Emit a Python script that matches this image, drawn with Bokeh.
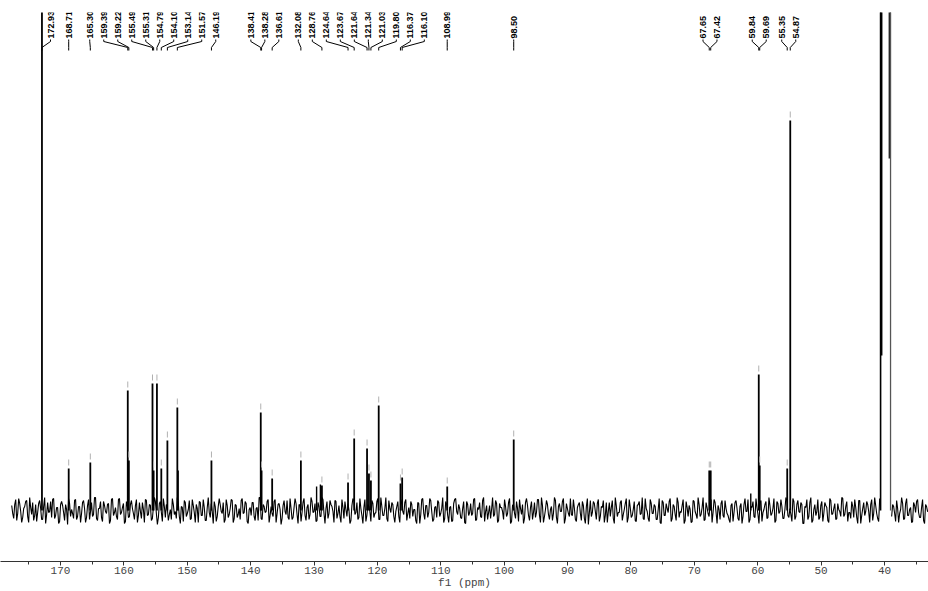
import numpy as np
from bokeh.plotting import figure
from bokeh.models import Range1d, SingleIntervalTicker
from bokeh.core.properties import value
from bokeh.embed import file_html
from bokeh.resources import INLINE

# ---------------- data ----------------
# picked peaks (ppm) and their heights above the baseline (arbitrary units)
peak_ppm = [172.93, 168.71, 165.30, 159.39, 159.22, 155.49, 155.31, 154.79, 154.10,
            153.14, 151.57, 146.19, 138.41, 138.28, 136.61, 132.08, 128.76, 124.64,
            123.67, 121.64, 121.34, 121.03, 119.80, 116.37, 116.10, 108.99, 98.50,
            67.65, 67.42, 59.84, 59.69, 55.35, 54.87]
peak_height = [700, 42, 48, 120, 50, 127, 40, 127, 42,
               70, 103, 50, 98, 40, 32, 50, 25, 28,
               72, 62, 37, 30, 105, 27, 33, 24, 71,
               40, 40, 136, 45, 42, 390]
peak_label = ["172.93", "168.71", "165.30", "159.39", "159.22", "155.49", "155.31",
              "154.79", "154.10", "153.14", "151.57", "146.19", "138.41", "138.28",
              "136.61", "132.08", "128.76", "124.64", "123.67", "121.64", "121.34",
              "121.03", "119.80", "116.37", "116.10", "108.99", "98.50", "67.65",
              "67.42", "59.84", "59.69", "55.35", "54.87"]

# small unlabelled features
small_ppm = [151.44, 129.6, 129.0, 61.1]
small_height = [40, 24, 26, 17]

# solvent multiplet strokes (off scale): ppm, lower end of stroke, upper end
solvent_ppm = [40.62, 40.50, 39.18, 39.05]
solvent_low = [0, 155, 352, 0]
solvent_high = [900, 900, 900, 900]

# baseline noise trace, two interleaved sample sets (even / odd points),
# evenly spaced from 177.7 to 33.05 ppm
noise_even = [
    5, -8, 11, -3, 7, -12, 2, 9, -6, 13, -4, -10, 6, -2, 10, -9, 4, -13, 8, -1,
    -7, 12, -5, 3, -11, 9, -2, 6, -14, 7, 1, -8, 11, -6, 4, -3, 10, -12, 5, -9,
    8, -4, 13, -10, 2, -7, 9, -1, 6, -13, 11, -5, 3, -9, 12, -2, 7, -11, 4, -6,
    10, -3, 5, -12, 8, -8, 1, 11, -5, 6, -10, 3, 9, -14, 7, -2, 12, -7, 2, -4,
    -9, 6, -1, 13, -6, 4, -11, 8, -3, 10, -8, 5, -12, 2, 9, -5, 11, -10, 3, -2,
    7, -13, 4, -6, 12, -1, 8, -9, 5, -4, 11, -12, 6, -7, 2, 10, -3, 9, -11, 1,
    -5, 8, -10, 3, 13, -8, 6, -2, 9, -12, 4, -6, 11, -3, 7, -14, 5, -1, 10, -9,
    2, -7, 12, -4, 6, -11, 8, -5, 3, -9, 13, -2, 7, -10, 4, -6, 11, -13, 9, -3,
    6, -1, 10, -8, 5, -12, 3, 9, -6, 1, -10, 12, -4, 8, -7, 2, -13, 11, -5, 4,
    -11, 7, -3, 9, -9, 13, -5, 2, -8, 10, -2, 6, -12, 4, -6, 11, -1, 8, -10, 3,
    9, -6, 1, -13, 7, -4, 12, -9, 5, -2, 10, -11, 3, -7, 8, -3, 13, -8, 6, -12,
    4, -10, 11, -1, 6, -7, 2, -12, 9, -5, 7, -3, 12, -9, 1, -6, 10, -11, 5, -2,
    -8, 13, -4, 7, -10, 3, -1, 11, -6, 8, -13, 5, -3, 9, -11, 2, 6, -8, 12, -5,
    3, -9, 8, -2, 11, -12, 5, -6, 10, -4, 1, -10, 13, -7, 4, -1, 9, -13, 7, -3,
    12, -5, 2, -11, 6, -3, 9, -8, 4, -14, 10, -2, 7, -9, 11, -6, 3, -12, 8, -1,
    -6, 10, -13, 5, -2, 8, -10, 1, 12, -7, 3, -5, 9, -11, 6, -4, 13, -9, 2, -8,
    11, -3, 6, -9, 1, -12, 10, -5, 7, -2, 12, -8, 4, -10, 8, -1, 5, -13, 9, -6,
    1, -11, 9, -4, 13, -6, 3, -10, 8, -3, 6, -12, 11, -2, 5, -9, 10, -7, 2, -5,
    -12, 7, -2, 10, -8, 4, -13, 6, -1, 11, -9, 3, -6, 12, -4, 8, -11, 1, 9, -7,
    5, -3, 12, -10, 7, -1, 4, -8, 13, -5, 2, -11, 9, -6, 10, -2, 6, -13, 3, -9,
    8, -12, 1, -5, 11, -7, 9, -3, 5, -10, 12, -4, 2, -9, 7, -1, 13, -6, 4, -11,
    -2, 9, -7, 3, -13, 10, -5, 8, -1, 6, -12, 11, -3, 5, -8, 12, -10, 2, -4, 7,
    10, -6, 4, -11, 2, -3, 13, -9, 7, -5, 1, -12, 8, -2, 11, -7, 3, -10, 6, -1,
]
noise_odd = [
    -3, 6, -10, 12, -1, -7, 4, 10, -12, 3, 8, -5, -11, 7, 2, -9, 13, -4, -2, 9,
    11, -8, 3, -13, 6, 5, -10, 1, 12, -6, -3, 10, -9, 4, -12, 8, 2, -7, 11, -1,
    -6, 13, -8, 2, 9, -11, 5, -3, 7, -10, 12, -2, -6, 11, -4, 3, -13, 9, -7, 6,
    2, -9, 11, -5, -1, 8, -12, 10, -4, 5, -8, 13, -3, -7, 9, -11, 4, 6, -10, 1,
    12, -4, -8, 7, -13, 3, 10, -6, 1, -9, 11, -2, 6, -12, 8, -5, 3, -10, 13, -7,
    -1, 9, -11, 4, 6, -3, -12, 11, -7, 2, 10, -8, 5, -4, -9, 12, -2, 7, -13, 3,
    8, -6, 2, -10, 13, -9, 4, -1, 11, -5, -3, 9, -12, 6, 1, -8, 10, -4, -7, 12,
    -9, 3, 7, -13, 5, -2, 12, -10, 6, -4, 9, -1, -11, 8, -6, 13, -3, 2, -8, 10,
    4, -12, 9, -3, -6, 11, -8, 1, 7, -13, 5, 10, -2, -9, 12, -5, 3, -11, 6, -1,
    10, -7, -2, 12, -9, 4, -5, 13, -11, 2, 8, -6, -1, 9, -12, 7, -4, 11, -3, -8,
    6, 1, -10, 8, -13, 11, -3, 5, -7, 12, -1, -9, 4, 10, -6, 2, -12, 9, -5, 3,
    -11, 7, 12, -4, 2, -8, 9, -13, 6, -2, -5, 11, -10, 3, 8, -7, 13, -1, -9, 5,
    1, -6, 10, -12, 7, 3, -9, 4, -3, 12, -11, 6, -8, 2, 11, -4, -13, 8, 5, -10,
    9, -2, -7, 11, -5, 13, -12, 1, 6, -9, 4, -3, 10, -13, 7, -1, 12, -8, 2, -6,
    -4, 11, -9, 3, 8, -10, 5, -13, 12, -2, -6, 9, -1, 7, -11, 4, 10, -5, -12, 8,
    3, -8, 13, -6, -2, 10, -4, 7, -12, 11, -7, 1, -10, 5, 9, -3, -8, 12, -1, -11,
    7, -3, 4, -9, 12, -13, 8, -5, 2, 9, -11, 6, -4, 13, -7, -2, 11, -10, 3, 5,
    -12, 10, -1, -8, 6, -4, 13, -9, 3, -6, 11, -2, 8, -13, 1, 7, -5, 10, -3, -9,
    5, -11, 8, 2, -10, 7, -6, 12, -1, -12, 4, 9, -7, 3, -13, 10, -2, 6, -8, 13,
    -5, 2, -12, 9, -3, 11, -8, 1, 10, -7, -4, 12, -9, 6, -1, 8, -13, 4, 11, -6,
    13, -10, 6, -1, -9, 5, -11, 8, 3, -12, 10, -3, 7, -8, 1, -6, 12, -4, 9, -2,
    -8, 4, 11, -7, 10, -13, 2, -5, 9, -1, 6, -10, 13, -3, -11, 8, -6, 3, -4, 12,
    -9, 6, -3, 10, -12, 1, 7, -8, 12, -5, 3, -11, 5, 9, -2, -7, 11, -13, 4, -1,
]
noise_start, noise_end = 177.7, 33.05

axis_title = "f1 (ppm)"

# ---------------- layout constants ----------------
W, H = 928, 591
X_START, X_END = 179.47, 33.06
Y_MIN, Y_MAX = -51, 498
LABEL_GAP_PX = 14.0
LABEL_LEFT_LIMIT_PX = 50.0
FONT_LAB = "Liberation Sans"

p = figure(width=W, height=H,
           x_range=Range1d(X_START, X_END), y_range=Range1d(Y_MIN, Y_MAX),
           output_backend="svg", toolbar_location=None,
           min_border_left=0, min_border_right=0, min_border_top=12, min_border_bottom=0)
p.yaxis.visible = False
p.grid.visible = False
p.outline_line_color = None
p.background_fill_color = "white"

# ---- baseline noise ----
ny = np.empty(len(noise_even) + len(noise_odd), dtype=float)
ny[0::2] = noise_even
ny[1::2] = noise_odd
nx = np.linspace(noise_start, noise_end, len(ny))
ny[(nx > 39.0) & (nx < 40.65)] = np.nan
p.line(nx, ny, line_color="black", line_width=1.1)

# ---- peaks ----
p.segment(x0=peak_ppm, y0=[0] * len(peak_ppm), x1=peak_ppm, y1=peak_height,
          line_color="black", line_width=1.8)
p.segment(x0=small_ppm, y0=[0] * len(small_ppm), x1=small_ppm, y1=small_height,
          line_color="black", line_width=1.4)
p.segment(x0=solvent_ppm, y0=solvent_low, x1=solvent_ppm, y1=solvent_high,
          line_color=["black", "black", "#222222", "#555555"], line_width=[1.6, 2.2, 2.2, 1.3])

# peak-pick markers just above each peak top
ph = np.array(peak_height, dtype=float)
p.segment(x0=peak_ppm, y0=ph + 3, x1=peak_ppm, y1=ph + 9,
          line_color="#b0b0b0", line_width=1)

# ---- label spreading (in screen px) ----
ppx = W / (X_START - X_END)
peak_px = [(X_START - v) * ppx for v in peak_ppm]
clusters = [[i] for i in range(len(peak_px))]


def layout(c):
    center = sum(peak_px[i] for i in c) / len(c)
    n = len(c)
    pos = [center + (k - (n - 1) / 2) * LABEL_GAP_PX for k in range(n)]
    if c[0] == 0 and pos[0] < LABEL_LEFT_LIMIT_PX:
        shift = LABEL_LEFT_LIMIT_PX - pos[0]
        pos = [v + shift for v in pos]
    return pos


changed = True
while changed:
    changed = False
    merged = [clusters[0]]
    for c in clusters[1:]:
        prev = merged[-1]
        if layout(prev)[-1] + LABEL_GAP_PX > layout(c)[0] + 0.01:
            merged[-1] = prev + c
            changed = True
        else:
            merged.append(c)
    clusters = merged

label_px = []
for c in clusters:
    label_px.extend(layout(c))
label_x = [X_START - v / ppx for v in label_px]

# brackets
xs, ys = [], []
for lx, px_ in zip(label_x, peak_ppm):
    xs.append([lx, lx, px_, px_])
    ys.append([471, 469, 463, 460])
p.multi_line(xs, ys, line_color="black", line_width=1)

p.text(x=label_x, y=[472] * len(label_x), text=peak_label, angle=np.pi / 2,
       text_align="left", text_baseline="middle",
       text_font=value(FONT_LAB), text_font_style="bold", text_font_size="9px",
       text_color="black")

# ---- axis ----
ax = p.xaxis[0]
ax.ticker = SingleIntervalTicker(interval=10, num_minor_ticks=2)
ax.axis_line_color = "#333333"
ax.axis_line_width = 1
ax.major_tick_in = 0
ax.major_tick_out = 4
ax.minor_tick_in = 0
ax.minor_tick_out = 3
ax.major_tick_line_color = "#333333"
ax.minor_tick_line_color = "#333333"
ax.major_label_text_font = "Liberation Mono"
ax.major_label_text_font_size = "11px"
ax.major_label_text_color = "#444444"
ax.major_label_standoff = 1
ax.axis_label = axis_title
ax.axis_label_text_font = "Liberation Mono"
ax.axis_label_text_font_style = "normal"
ax.axis_label_text_font_size = "11px"
ax.axis_label_text_color = "#444444"
ax.axis_label_standoff = 0

open("out.html", "w").write(file_html(p, INLINE))
